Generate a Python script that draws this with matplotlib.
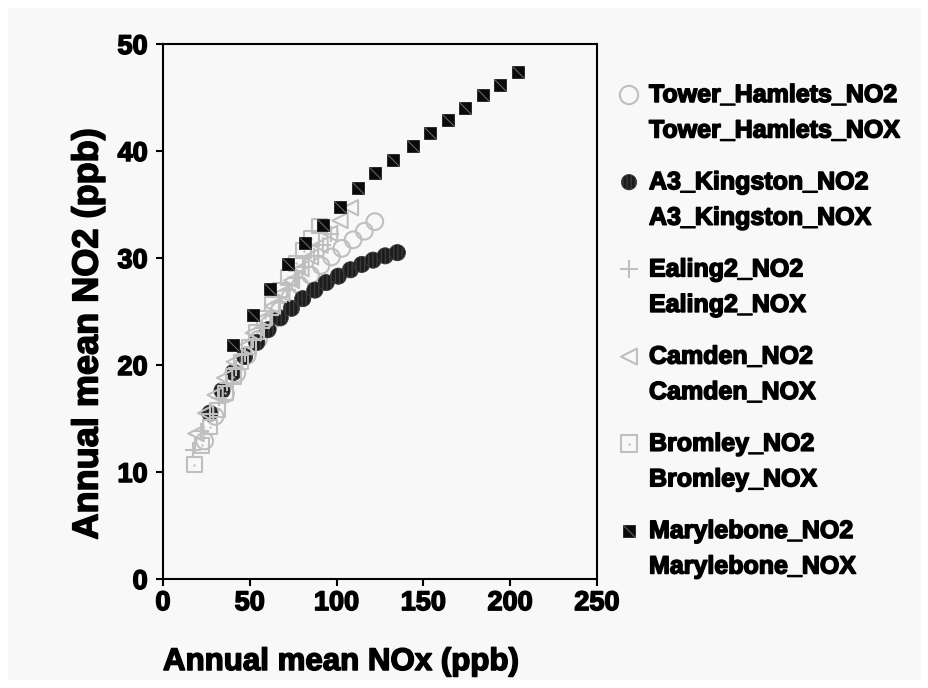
import numpy as np
import matplotlib
matplotlib.use("Agg")
import matplotlib.pyplot as plt
from matplotlib.patches import Rectangle
from matplotlib.path import Path
import matplotlib.patheffects as pe

# --- data (NOx, NO2 in ppb) ---
tower_nox = [24, 30, 36, 42.5, 48.5, 55, 61, 67, 73, 79, 85, 91, 97, 103, 109.5, 116, 122]
tower_no2 = [12.9, 15.2, 17.3, 19.2, 20.9, 22.4, 23.8, 25.1, 26.3, 27.4, 28.4, 29.3, 30.1, 30.9, 31.7, 32.5, 33.4]

kingston_nox = [27, 34, 40.5, 47, 54, 60.5, 67.5, 74, 80.5, 87.5, 94, 101, 108, 114.5, 121, 128, 135]
kingston_no2 = [15.5, 17.6, 19.3, 20.8, 22.1, 23.3, 24.4, 25.3, 26.2, 27.0, 27.7, 28.3, 28.9, 29.4, 29.8, 30.2, 30.5]

ealing_nox = [17, 22, 27, 32, 37, 42, 47, 52, 57, 62, 67, 72, 77, 82, 87, 92, 97]
ealing_no2 = [12.1, 13.8, 15.4, 16.9, 18.3, 19.7, 21.0, 22.3, 23.5, 24.7, 25.9, 27.0, 28.1, 29.2, 30.2, 31.2, 32.2]

camden_nox = [19, 24.5, 30, 35.5, 41, 46.5, 52, 57.5, 63, 68.5, 74, 79.5, 85, 90.5, 96, 102, 108]
camden_no2 = [13.6, 15.5, 17.2, 18.8, 20.3, 21.7, 23.0, 24.3, 25.5, 26.7, 27.9, 29.0, 30.1, 31.2, 32.3, 33.5, 34.7]

bromley_nox = [18, 22.5, 27, 31.5, 36, 40.5, 45, 49.5, 54, 58.5, 63, 67.5, 72, 76.5, 81, 85.5, 90]
bromley_no2 = [10.7, 12.5, 14.2, 15.8, 17.4, 18.9, 20.3, 21.7, 23.1, 24.4, 25.7, 27.0, 28.2, 29.5, 30.7, 31.8, 33.0]

maryl_nox = [40.2, 51.8, 61.6, 71.8, 81.8, 92.0, 102.1, 112.3, 122.3, 132.5, 143.8, 153.8, 164.0, 174.1, 184.2, 194.3, 204.3]
maryl_no2 = [21.9, 24.7, 27.1, 29.4, 31.4, 33.1, 34.8, 36.5, 37.9, 39.2, 40.5, 41.7, 42.9, 44.0, 45.2, 46.2, 47.4]

labels = ["Tower_Hamlets", "A3_Kingston", "Ealing2", "Camden", "Bromley", "Marylebone"]

GRAY = "#bfbfbf"
BG = "#f8f8f8"
plt.rcParams['font.family'] = ['Liberation Sans', 'DejaVu Sans']
bold = [pe.withStroke(linewidth=1.1, foreground="black")]

fig = plt.figure(figsize=(9.29, 6.88), dpi=100, facecolor="white")
fig.patches.append(Rectangle((8 / 929, 8 / 688), 913 / 929, 672 / 688,
                             transform=fig.transFigure, facecolor=BG,
                             edgecolor="none", zorder=-1))

ax = fig.add_axes([163 / 929, 1 - 579 / 688, 434 / 929, 535 / 688])
ax.set_facecolor(BG)

diag = Path([(-0.5, 0.5), (0.5, -0.5)])

# marker styles per series
styles = {
    "Tower_Hamlets": dict(marker="o", s=145, facecolors="none", edgecolors=GRAY, linewidths=1.5),
    "A3_Kingston": dict(marker="o", s=135, facecolors="#1c1c1c", edgecolors="#3a3a3a",
                        linewidths=0.6, hatch="||||"),
    "Ealing2": dict(marker="+", s=130, c=GRAY, linewidths=1.5),
    "Camden": dict(marker="<", s=120, facecolors="none", edgecolors=GRAY, linewidths=1.5),
    "Bromley": dict(marker="s", s=110, facecolors="none", edgecolors=GRAY, linewidths=1.5),
    "Marylebone": dict(marker="s", s=72, facecolors="#0a0a0a", edgecolors="#0a0a0a", linewidths=0.5),
}

series = [(tower_nox, tower_no2), (kingston_nox, kingston_no2), (ealing_nox, ealing_no2),
          (camden_nox, camden_no2), (bromley_nox, bromley_no2), (maryl_nox, maryl_no2)]

for name, (x, y) in zip(labels, series):
    ax.scatter(x, y, zorder=3, **styles[name])
    if name == "Bromley":
        ax.scatter(x, y, marker=".", s=2, c=GRAY, zorder=3)
    if name == "Marylebone":
        ax.scatter(x, y, marker=diag, s=72, c="#707070", linewidths=0.7, zorder=4)

ax.set_xlim(0, 250)
ax.set_ylim(0, 50)
ax.set_xticks(np.arange(0, 251, 50))
ax.set_yticks(np.arange(0, 51, 10))
for sp in ax.spines.values():
    sp.set_linewidth(1.5)
ax.tick_params(direction="out", length=5, width=1.5, labelsize=19.5)
ax.tick_params(axis="y", pad=6)
ax.tick_params(axis="x", pad=3)
for lab in ax.get_xticklabels() + ax.get_yticklabels():
    lab.set_fontweight("bold")
    lab.set_path_effects(bold)

fig.text(163 / 929, 1 - 662 / 688, "Annual mean NOx (ppb)", fontsize=22.5, fontweight="bold",
         ha="left", va="center", path_effects=bold)
fig.text(88 / 929, 1 - 334 / 688, "Annual mean NO2 (ppb)", fontsize=26, fontweight="bold",
         ha="center", va="center", rotation=90, path_effects=bold)

# legend drawn on an overlay in pixel coordinates
lg = fig.add_axes([0, 0, 1, 1], facecolor="none")
lg.set_xlim(0, 929)
lg.set_ylim(688, 0)
lg.axis("off")
leg_scale = {"Tower_Hamlets": 1.2, "A3_Kingston": 0.9, "Ealing2": 1.4,
             "Camden": 1.1, "Bromley": 1.3, "Marylebone": 1.0}
for i, name in enumerate(labels):
    y0 = 95 + i * 87.2
    st = dict(styles[name])
    st["s"] = st["s"] * leg_scale[name]
    lg.scatter([629], [y0], clip_on=False, **st)
    if name == "Bromley":
        lg.scatter([629], [y0], marker=".", s=2, c=GRAY)
    if name == "Marylebone":
        lg.scatter([629], [y0], marker=diag, s=72, c="#707070", linewidths=0.7)
    lg.text(649, y0, name + "_NO2", fontsize=18, fontweight="bold", va="center",
            ha="left", path_effects=bold)
    lg.text(649, y0 + 35.5, name + "_NOX", fontsize=18, fontweight="bold", va="center",
            ha="left", path_effects=bold)

fig.savefig("out.png", dpi=100, facecolor=fig.get_facecolor())
